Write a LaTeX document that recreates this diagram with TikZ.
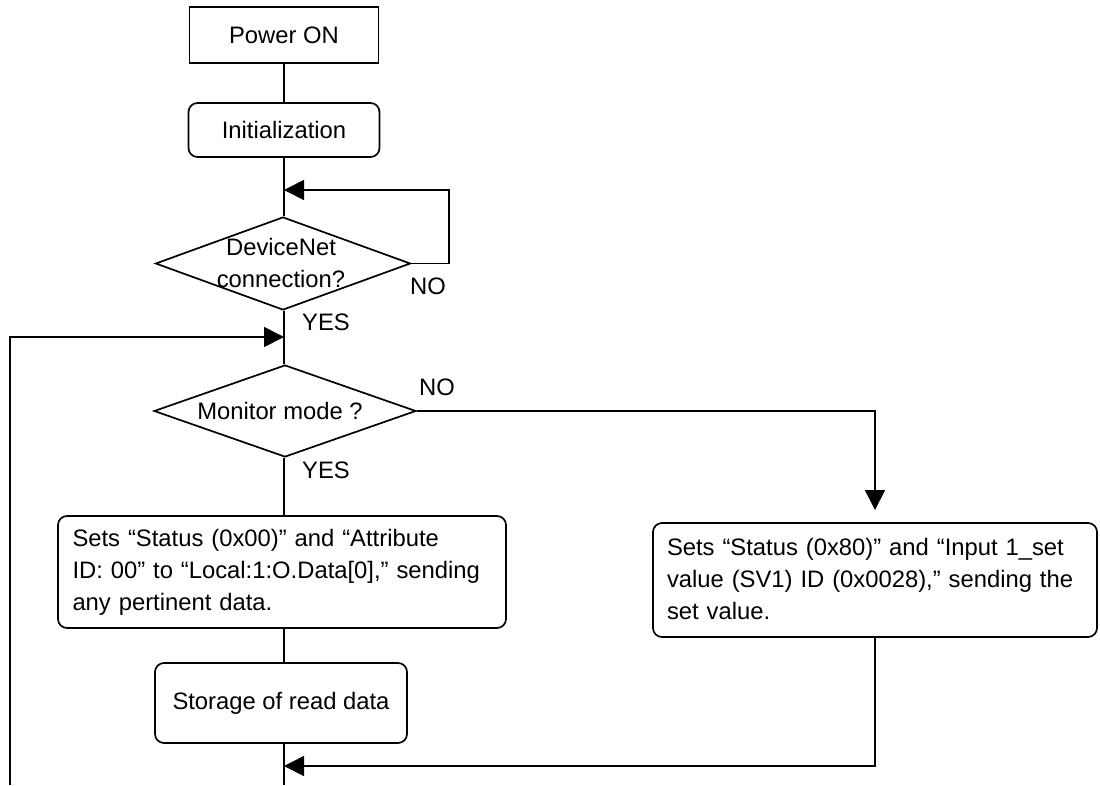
\documentclass[tikz,border=0pt]{standalone}
\usepackage{fontspec}
\setmainfont{Liberation Sans}
\usetikzlibrary{arrows.meta,shapes.geometric}
\begin{document}
\begin{tikzpicture}[x=1pt,y=-1pt, line width=1.7pt,
  every node/.style={font=\fontsize{23.8}{32}\selectfont},
  sqbox/.style={draw, rectangle, inner sep=0pt},
  rbox/.style={draw, rectangle, rounded corners=9pt, inner sep=0pt},
  dia/.style={draw, diamond, inner sep=0pt},
  lbl/.style={inner sep=0pt},
  txt/.style={inner sep=0pt, align=left},
  arr/.style={-{Triangle[length=20pt,width=20pt]}},
]
\useasboundingbox (0,0) rectangle (1100,785);

% nodes
\node[sqbox, minimum width=189pt, minimum height=56pt] (pwr) at (284,35) {Power ON};
\node[rbox, minimum width=191pt, minimum height=54pt] (init) at (284,130) {Initialization};
\node[dia, minimum width=255pt, minimum height=93pt] (d1) at (283,263.5) {};
\node[lbl, align=center] (d1t) at (281,263) {DeviceNet\\connection?};
\node[dia, minimum width=262pt, minimum height=92pt] (d2) at (285,411) {};
\node[lbl] (d2t) at (280,411) {Monitor mode ?};
\node[rbox, minimum width=448pt, minimum height=112pt] (b1) at (282,572) {};
\node[txt, text width=420pt] (b1t) at (282.5,572) {Sets “Status (0x00)” and “Attribute\\
\makebox[420pt][s]{ID: 00” to “Local:1:O.Data[0],” sending}\\
any pertinent data.};
\node[rbox, minimum width=252pt, minimum height=80pt] (b2) at (281,703) {Storage of read data};
\node[rbox, minimum width=444pt, minimum height=114pt] (b3) at (875,580) {};
\node[txt, text width=419pt] (b3t) at (876.5,579) {\makebox[419pt][s]{Sets “Status (0x80)” and “Input 1\_set}\\
\makebox[419pt][s]{value (SV1) ID (0x0028),” sending the}\\
set value.};

% labels
\node[lbl] (no1) at (428,286) {NO};
\node[lbl] (yes1) at (326,322) {YES};
\node[lbl] (no2) at (437,387) {NO};
\node[lbl] (yes2) at (326,470) {YES};

% coordinates
\coordinate (j1) at (284,190);
\coordinate (j1r) at (449,190);
\coordinate (j2) at (284,337);
\coordinate (lb) at (10,785);
\coordinate (j3) at (875,510);
\coordinate (j4) at (284,766);
\coordinate (bot) at (284,785);

% connectors
\draw (pwr.south) -- (init.north);
\draw (init.south) -- (init.south |- d1.north);
\draw[arr] (d1.east) -| (j1r) -- (j1);
\draw (j2 |- d1.south) -- (j2 |- d2.north);
\draw[arr] (lb) |- (j2);
\draw (j2 |- d2.south) -- (j2 |- b1.north);
\draw[arr] (d2.east) -| (j3);
\draw (b1.south -| j2) -- (b2.north -| j2);
\draw (b2.south -| j2) -- (bot);
\draw[arr] (b3.south) |- (j4);
\end{tikzpicture}
\end{document}
